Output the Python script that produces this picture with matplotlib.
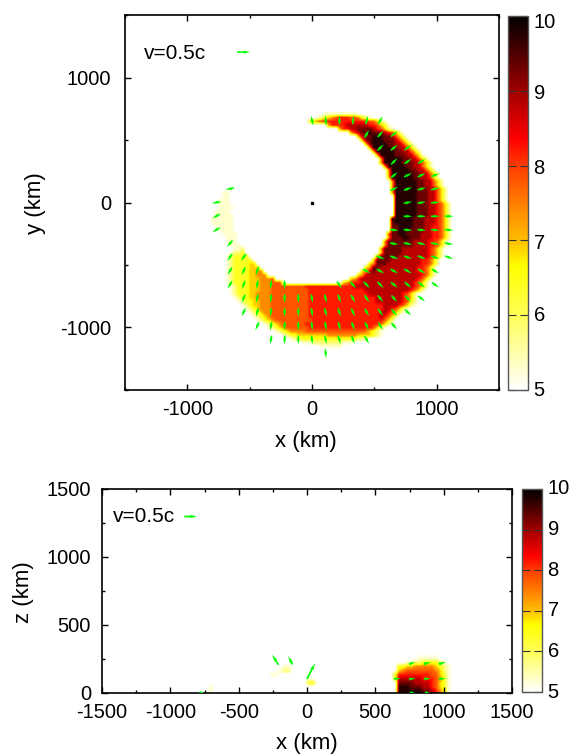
import numpy as np
import matplotlib
matplotlib.use("Agg")
import matplotlib.pyplot as plt
from matplotlib.colors import LinearSegmentedColormap, Normalize
from matplotlib.ticker import MultipleLocator

plt.rcParams['font.family'] = ['Liberation Sans', 'DejaVu Sans']
plt.rcParams['axes.unicode_minus'] = False

# colour scale
scale_pos = [5, 6, 6.65, 7, 8, 8.35, 9, 10]
scale_col = ['#ffffff', '#ffff55', '#ffff00', '#ffbe00', '#ff3c00', '#ff0000', '#a00000', '#000000']

# one digit per cell, digit -> log density
level_values = [5.3, 5.8, 6.4, 6.9, 7.4, 7.8, 8.2, 8.8, 9.3, 9.75]

cell = 30  # km

# x-y slice: (row from top, first column, cell digits)
xy_left = -810
xy_top = 720
xy_cells = [
    (0, 30, "000000000"),
    (1, 28, "012345666554210"),
    (2, 26, "234566666666666655310"),
    (3, 31, "46666777777665320"),
    (4, 34, "466778888765310"),
    (5, 37, "46788988876531"),
    (6, 39, "4788999887531"),
    (7, 40, "4889998887531"),
    (8, 41, "4899998877531"),
    (9, 42, "4999998877531"),
    (10, 43, "4999998877531"),
    (11, 44, "4999988877530"),
    (12, 45, "4999998877531"),
    (13, 45, "49999988877531"),
    (14, 46, "4999998877531"),
    (15, 47, "4999998877531"),
    (16, 47, "49999998877531"),
    (17, 47, "39999998877631"),
    (18, 48, "49999998877531"),
    (19, 48, "49999998877531"),
    (20, 48, "499999988877531"),
    (21, 48, "499999988877531"),
    (22, 49, "99999988877531"),
    (23, 49, "99999988877531"),
    (24, 49, "999999888776531"),
    (25, 49, "999999888776531"),
    (26, 49, "999999888776531"),
    (27, 49, "999999888776531"),
    (28, 48, "9999998887776531"),
    (29, 48, "8999998887776531"),
    (30, 48, "8899998887766531"),
    (31, 48, "8899988887766531"),
    (32, 47, "58899888877766531"),
    (33, 47, "48889988877766531"),
    (34, 46, "48888888777766531"),
    (35, 46, "48888888777766531"),
    (36, 45, "48888877777776531"),
    (37, 45, "38888877777776531"),
    (38, 44, "488888777777776531"),
    (39, 43, "388887777777766531"),
    (40, 42, "3488877777777766531"),
    (41, 41, "3488777777777766531"),
    (42, 40, "34787777777777766531"),
    (43, 39, "347777777777777776531"),
    (44, 37, "3467777777777777776531"),
    (45, 35, "34666777777777777776531"),
    # lower left part of the crescent
    (36, 6, "001"),
    (37, 5, "0112"),
    (38, 4, "012222"),
    (39, 4, "0122222"),
    (40, 4, "01222233"),
    (41, 4, "012222333"),
    (42, 4, "0122223344"),
    (43, 4, "01222233444"),
    (44, 4, "0122223334445"),
    (45, 4, "012222333444555"),
    # bottom, closed rows
    (46, 5, "01222333444555555555666666666666677777777777777776531"),
    (47, 5, "0122233344455555555556666666666666667777777777776531"),
    (48, 5, "01222334444555555555566666666666666667777777776531"),
    (49, 6, "0122334444555555555566666666666666666677777776531"),
    (50, 7, "012233444555555555566666666666666666677777776521"),
    (51, 8, "01233444555555555566666666666666666666777765310"),
    (52, 9, "01234445555555555666666666666666666667765310"),
    (53, 10, "012344555555555566666666666666666667765310"),
    (54, 11, "012345555555555666666666666666666676531"),
    (55, 12, "0123455555555556666666666666666666531"),
    (56, 14, "01234555555666666666666666666665310"),
    (57, 15, "01234555555666666666666666665310"),
    (58, 17, "01234444555555555555555543210"),
    (59, 19, "012233333333444444443333210"),
    (60, 21, "011222222222222222110"),
    (61, 24, "00011111111000"),
    (62, 29, "000000"),
    # pale tail on the left
    (21, 3, "00"),
    (22, 3, "00"),
    (23, 2, "000"),
    (24, 2, "000"),
    (25, 2, "0000"),
    (26, 1, "0000"),
    (27, 1, "00000"),
    (28, 0, "000000"),
    (29, 0, "000000"),
    (30, 1, "00000"),
    (31, 2, "0000"),
    (32, 3, "0000"),
    (33, 4, "000"),
    (34, 4, "000"),
    (35, 5, "000"),
]

# x-z slice: (row from z=0, first column from x=-1500, cell digits)
xz_cells = [
    (0, 72, "9999998876420"),
    (1, 72, "9998887765320"),
    (2, 72, "8888777765320"),
    (3, 71, "27777776665420"),
    (4, 71, "26666666655320"),
    (5, 72, "3455555554310"),
    (6, 72, "2233444443210"),
    (7, 74, "0011222210"),
    (8, 77, "00000"),
    (4, 41, "00"),
    (5, 43, "011"),
    (6, 44, "00"),
    (2, 50, "22"),
    (3, 50, "0"),
    (0, 26, "0"),
    (1, 26, "0"),
]

# velocity arrows on the 110 km grid: (j, i list, direction in degrees)
xy_arrows = [
    (6, [0, 1, 2, 3, 4, 5], [100, 95, 90, 85, 75, 60]),
    (5, [4, 5, 6], [60, 50, 40]),
    (4, [5, 6, 7], [45, 40, 35]),
    (3, [6, 7, 8], [45, 35, 30]),
    (2, [6, 7, 8, 9], [40, 25, 25, 20]),
    (1, [6, 7, 8, 9], [25, 20, 15, 12]),
    (0, [7, 8, 9], [10, 10, 5]),
    (-1, [7, 8, 9, 10], [0, 0, 0, 0]),
    (-2, [6, 7, 8, 9, 10], [-5, -5, -5, -5, -5]),
    (-3, [6, 7, 8, 9, 10], [-10, -12, -12, -12, -10]),
    (-4, [5, 6, 7, 8, 9, 10], [-20, -20, -20, -22, -20, -20]),
    (-5, [4, 5, 6, 7, 8, 9], [-30, -30, -30, -30, -30, -30]),
    (-6, [2, 3, 4, 5, 6, 7, 8, 9], [-55, -50, -45, -45, -40, -40, -40, -35]),
    (-7, [0, 1, 2, 3, 4, 5, 6, 7, 8], [-80, -75, -70, -60, -55, -50, -50, -45, -40]),
    (-8, [0, 1, 2, 3, 4, 5, 6, 7], [-80, -75, -70, -65, -60, -55, -50, -45]),
    (-9, [0, 1, 2, 3, 4, 5, 6], [-85, -80, -75, -70, -65, -60, -50]),
    (-10, [0, 1, 2, 3, 4], [-85, -80, -75, -70, -60]),
    (-11, [1], [-85]),
    # left side of the disc
    (1, [-6], [190]),
    (0, [-7], [190]),
    (-1, [-7], [210]),
    (-2, [-7], [210]),
    (-3, [-6], [230]),
    (-4, [-6, -5], [235, 235]),
    (-5, [-6, -5, -4], [240, 245, 250]),
    (-6, [-6, -5, -4, -3, -2], [240, 250, 260, 265, 270]),
    (-7, [-5, -4, -3, -2, -1], [250, 260, 265, 270, 270]),
    (-8, [-5, -4, -3, -2, -1], [245, 255, 265, 270, 270]),
    (-9, [-4, -3, -2, -1], [245, 260, 268, 270]),
    (-10, [-3, -2, -1], [260, 265, 270]),
]
xy_arrow_len = 70

xz_arrow_x = [660, 770, 880, 990, 770, 880, 990, -232, -122, 29, -770, 770, 880]
xz_arrow_y = [105, 105, 105, 105, 220, 220, 220, 244, 240, 160, 5, 5, 5]
xz_arrow_ang = [0, 8, 5, 3, 18, 15, 15, 122, 118, 63, 0, 0, 0]
xz_arrow_len = [50, 50, 50, 50, 50, 55, 55, 88, 68, 130, 35, 35, 35]

legend_text = "v=0.5c"
xy_ticks = [-1000, 0, 1000]
xz_ticks = [-1500, -1000, -500, 0, 500, 1000, 1500]
xz_yticks = [0, 500, 1000, 1500]
bar_ticks = [5, 6, 7, 8, 9, 10]


def make_grid(segments, nrows, ncols):
    # empty cells sit at the white end of the scale so the resampling fades out
    grid = np.full((nrows, ncols), 5.0)
    for row, start, digits in segments:
        for k, d in enumerate(digits):
            grid[row, start + k] = level_values[int(d)]
    return grid


def draw_arrows(ax, x, y, ang, length):
    a = np.radians(ang)
    ax.quiver(x, y, np.array(length) * np.cos(a), np.array(length) * np.sin(a),
              angles='xy', scale_units='xy', scale=1, pivot='mid', color='#00ff00',
              width=0.0042, headwidth=2.2, headlength=4.5, headaxislength=3.5, zorder=3)


def style_axes(ax, xpad, ypad):
    ax.tick_params(which='both', direction='in', top=True, right=True, width=1)
    ax.tick_params(which='major', length=4.5, labelsize=14.5)
    ax.tick_params(which='minor', length=2.5)
    ax.tick_params(axis='x', which='major', pad=xpad)
    ax.tick_params(axis='y', which='major', pad=ypad)
    for s in ax.spines.values():
        s.set_linewidth(1.2)


def pos(left, right, top, bottom):
    return [left / 574, 1 - bottom / 754, (right - left) / 574, (bottom - top) / 754]


def add_bar(fig, mesh, rect, offsets):
    cax = fig.add_axes(rect)
    cb = fig.colorbar(mesh, cax=cax)
    cb.outline.set_edgecolor('#555555')
    cb.outline.set_linewidth(1)
    cb.set_ticks(bar_ticks)
    cb.set_ticklabels([])
    cax.tick_params(which='both', direction='in', left=True, right=True, length=5.5, width=0.8, color='#333333')
    cax.minorticks_off()
    for t, off in zip(bar_ticks, offsets):
        cax.annotate(str(t), (1, t), xycoords=('axes fraction', 'data'), xytext=(4, off),
                     textcoords='offset points', va='center', fontsize=14.5, annotation_clip=False)


cmap = LinearSegmentedColormap.from_list(
    'dens', [((p - 5) / 5, c) for p, c in zip(scale_pos, scale_col)], N=256)
norm = Normalize(5, 10)

fig = plt.figure(figsize=(5.74, 7.54), dpi=100)

# x-y slice
ax1 = fig.add_axes(pos(125, 499, 15, 390))
grid = make_grid(xy_cells, 64, 66)
ext1 = [xy_left, xy_left + cell * grid.shape[1], xy_top - cell * grid.shape[0], xy_top]
mesh1 = ax1.imshow(grid, cmap=cmap, norm=norm, extent=ext1, origin='upper',
                   interpolation='bilinear', aspect='auto')
ax_x, ax_y, ax_a = [], [], []
for j, cols, angs in xy_arrows:
    for i, a in zip(cols, angs):
        ax_x.append(i * 110)
        ax_y.append(j * 110)
        ax_a.append(a)
draw_arrows(ax1, ax_x, ax_y, ax_a, [xy_arrow_len] * len(ax_x))
draw_arrows(ax1, [-549], [1203], [0], [104])
ax1.plot([0], [0], 's', color='black', ms=1.5)
ax1.set_xlim(-1500, 1500)
ax1.set_ylim(-1500, 1500)
ax1.set_xticks(xy_ticks)
ax1.set_yticks(xy_ticks)
ax1.xaxis.set_minor_locator(MultipleLocator(500))
ax1.yaxis.set_minor_locator(MultipleLocator(500))
style_axes(ax1, 7, 10)
ax1.text(-1350, 1190, legend_text, fontsize=15, va='center')
add_bar(fig, mesh1, pos(508, 528, 16, 390), [0, 0, -2, -2, -2, -5])
fig.text(306 / 574, 1 - 441 / 754, "x (km)", ha='center', va='center', fontsize=16)
fig.text(36 / 574, 1 - 203 / 754, "y (km)", ha='center', va='center', fontsize=16, rotation=90)

# x-z slice
ax2 = fig.add_axes(pos(102, 512, 489, 693))
grid2 = make_grid(xz_cells, 50, 100)
mesh2 = ax2.imshow(grid2, cmap=cmap, norm=norm, origin='lower', interpolation='bilinear',
                   extent=[-1500, 1500, 0, cell * grid2.shape[0]], aspect='auto')
draw_arrows(ax2, xz_arrow_x, xz_arrow_y, xz_arrow_ang, xz_arrow_len)
draw_arrows(ax2, [-851], [1298], [0], [93])
ax2.set_xlim(-1500, 1500)
ax2.set_ylim(0, 1500)
ax2.set_xticks(xz_ticks)
ax2.set_yticks(xz_yticks)
ax2.xaxis.set_minor_locator(MultipleLocator(250))
ax2.yaxis.set_minor_locator(MultipleLocator(250))
style_axes(ax2, 7, 8)
ax2.text(-1420, 1300, legend_text, fontsize=15, va='center')
add_bar(fig, mesh2, pos(522, 542, 489, 692), [0, 0, 0, 0, 0, 0])
fig.text(307 / 574, 1 - 743 / 754, "x (km)", ha='center', va='center', fontsize=16)
fig.text(23 / 574, 1 - 592 / 754, "z (km)", ha='center', va='center', fontsize=16, rotation=90)

fig.savefig("out.png", dpi=100)
